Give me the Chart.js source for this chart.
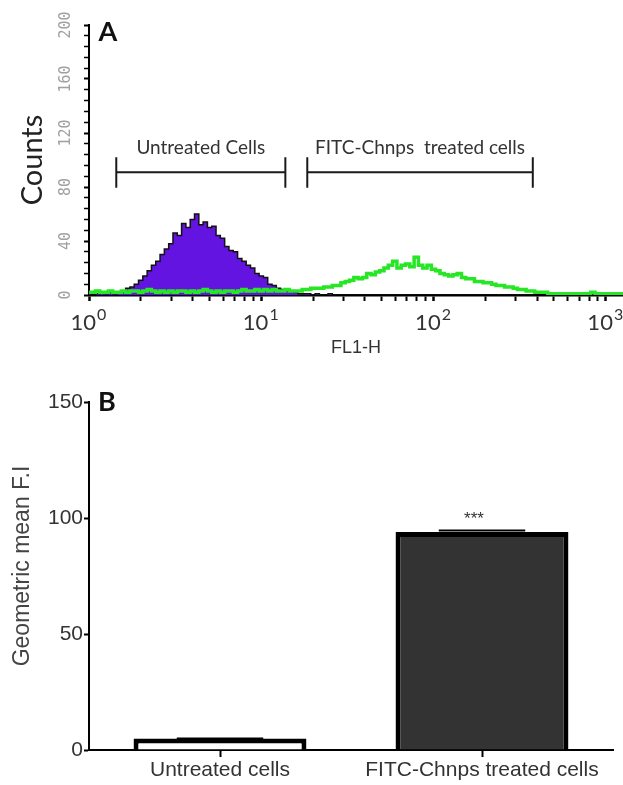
<!DOCTYPE html>
<html>
<head>
<meta charset="utf-8">
<script src="https://cdn.jsdelivr.net/npm/chart.js@4.4.0/dist/chart.umd.min.js"></script>
<style>
  body { margin: 0; background: #fff; }
  canvas { display: block; }
</style>
</head>
<body>
<canvas id="histogram" width="623" height="360"></canvas>
<canvas id="geomean" width="623" height="425"></canvas>
<script>
// panel A - flow histogram, bins are 1/40 decade wide starting at 10^0
const binStep = 0.025;
const untreatedCounts = [
  1, 0, 1, 2, 1, 2, 1, 2, 3, 5, 6, 8, 11, 14, 18, 22, 25, 30, 34, 38,
  46, 44, 53, 50, 56, 60, 52, 54, 50, 51, 44, 42, 36, 33, 32, 27, 25, 22, 20, 16,
  14, 13, 8, 7, 5, 4, 3, 3, 2, 1, 1, 1, 0, 1, 0, 0, 1, 0, 0, 0,
  0, 0, 0, 0, 0, 0, 0, 0, 0, 0, 0, 0, 0, 0, 0, 0, 0, 0, 0, 0,
  0, 0, 0, 0, 0, 0, 0, 0, 0, 0, 0, 0, 0, 0, 0, 0, 0, 0, 0, 0,
  0, 0, 0, 0
];
const fitcCounts = [
  2, 2, 3, 2, 2, 3, 2, 2, 3, 2, 3, 3, 2, 3, 4, 3, 2, 3, 2, 3,
  2, 3, 3, 2, 3, 2, 3, 4, 3, 2, 3, 2, 3, 3, 2, 3, 4, 3, 3, 4,
  3, 4, 3, 4, 3, 3, 4, 3, 3, 3, 4, 4, 5, 5, 5, 6, 6, 7, 7, 9,
  10, 11, 13, 12, 13, 16, 15, 17, 18, 20, 22, 25, 20, 22, 23, 21, 28, 22, 20, 22,
  19, 18, 16, 15, 14, 15, 16, 13, 12, 12, 10, 10, 9, 9, 8, 7, 7, 6, 6, 5,
  4, 4, 3, 3, 2, 2, 2, 1, 1, 1, 1, 1, 1, 1, 1, 1, 1, 2, 1, 1,
  1, 1, 1, 1, 1
];
const decadeExponents = ["0", "1", "2", "3"];
const countLabels = [0, 40, 80, 120, 160, 200];
const gateLabels = ["Untreated Cells", "FITC-Chnps  treated cells"];
const gateFrom = [1.44, 18.5];
const gateTo = [13.8, 377];

// panel B - geometric mean fluorescence
const groups = ["Untreated cells", "FITC-Chnps treated cells"];
const geoMeans = [5, 94];
const geoSem = [0, 0.6];
const significance = ["", "***"];

const letterFont = "bold 27px Lato, 'DejaVu Sans', sans-serif";

function toPoints(counts) {
  return counts.map((c, i) => ({ x: i * binStep, y: c }));
}

// minor + major tick positions for a log axis drawn in log10 units
function logTickValues(maxDecade) {
  const out = [];
  for (let n = 0; n <= 3; n++) {
    for (let k = 1; k <= 9; k++) {
      const v = n + Math.log10(k);
      if (v <= maxDecade) out.push({ value: v });
    }
  }
  return out;
}

const histDecorations = {
  id: "histDecorations",
  afterDraw(chart) {
    const { ctx, scales: { x, y } } = chart;
    ctx.save();

    // rotated count labels, like the cytometer software prints them
    ctx.fillStyle = "#a0a0a0";
    ctx.font = "15px 'DejaVu Sans Mono', monospace";
    ctx.textAlign = "center";
    ctx.textBaseline = "middle";
    countLabels.forEach((c) => {
      ctx.save();
      ctx.translate(66, y.getPixelForValue(c));
      ctx.rotate(-Math.PI / 2);
      ctx.fillText(String(c), 0, 0);
      ctx.restore();
    });

    // decade labels 10^n with a raised exponent
    ctx.fillStyle = "#333";
    ctx.textAlign = "left";
    ctx.textBaseline = "alphabetic";
    decadeExponents.forEach((e, n) => {
      const px = x.getPixelForValue(n);
      ctx.font = "22px Lato, 'Open Sans', sans-serif";
      const wBase = ctx.measureText("10").width;
      ctx.font = "16px Lato, 'Open Sans', sans-serif";
      const wExp = ctx.measureText(e).width;
      const left = px - (wBase + wExp) / 2 - 1;
      ctx.font = "22px Lato, 'Open Sans', sans-serif";
      ctx.fillText("10", left, 330);
      ctx.font = "16px Lato, 'Open Sans', sans-serif";
      ctx.fillText(e, left + wBase + 1, 320);
    });

    // gate brackets
    ctx.strokeStyle = "#1a1a1a";
    ctx.lineWidth = 2;
    ctx.fillStyle = "#333";
    ctx.textAlign = "center";
    ctx.textBaseline = "middle";
    ctx.font = "19px Lato, 'Open Sans', sans-serif";
    gateLabels.forEach((label, i) => {
      const x0 = x.getPixelForValue(Math.log10(gateFrom[i]));
      const x1 = x.getPixelForValue(Math.log10(gateTo[i]));
      const yl = y.getPixelForValue(91);
      const yTop = y.getPixelForValue(102);
      const yBot = y.getPixelForValue(79.5);
      ctx.beginPath();
      ctx.moveTo(x0, yl); ctx.lineTo(x1, yl);
      ctx.moveTo(x0, yTop); ctx.lineTo(x0, yBot);
      ctx.moveTo(x1, yTop); ctx.lineTo(x1, yBot);
      ctx.stroke();
      ctx.fillText(label, (x0 + x1) / 2, y.getPixelForValue(109));
    });

    ctx.fillStyle = "#111";
    ctx.font = letterFont;
    ctx.fillText("A", 108, 32);
    ctx.restore();
  }
};

new Chart(document.getElementById("histogram"), {
  type: "line",
  data: {
    datasets: [
      {
        label: "FITC-Chnps treated cells",
        data: toPoints(fitcCounts),
        borderColor: "#26e626",
        borderWidth: 3.5,
        fill: false,
        stepped: "middle",
        pointRadius: 0,
        order: 0,
      },
      {
        label: "Untreated cells",
        data: toPoints(untreatedCounts),
        borderColor: "#111111",
        borderWidth: 1.5,
        backgroundColor: "#6414e0",
        fill: "origin",
        stepped: "middle",
        pointRadius: 0,
        order: 1,
      },
    ],
  },
  options: {
    responsive: false,
    animation: false,
    layout: { padding: { top: 25, right: 0, left: 0, bottom: 0 } },
    plugins: { legend: { display: false }, tooltip: { enabled: false } },
    scales: {
      x: {
        type: "linear",
        min: 0,
        max: 3.1,
        afterBuildTicks: (scale) => {
          scale.ticks = logTickValues(3.1);
        },
        afterFit: (scale) => {
          scale.height = 65;
        },
        ticks: {
          autoSkip: false,
          maxRotation: 0,
          callback: () => "",
        },
        grid: {
          drawOnChartArea: false,
          tickLength: 6,
          tickColor: "#000",
          tickWidth: (c) => (Number.isInteger(c.tick && c.tick.value) ? 2.5 : 2),
        },
        border: { color: "#000", width: 2.5 },
        title: {
          display: true,
          text: "FL1-H",
          color: "#333",
          font: { family: "Arial, 'Liberation Sans', sans-serif", size: 18 },
          padding: { top: 0, bottom: 1 },
        },
      },
      y: {
        min: 0,
        max: 200,
        afterFit: (scale) => {
          scale.width = 89;
        },
        ticks: { stepSize: 8, display: false },
        grid: {
          drawOnChartArea: false,
          tickLength: 5,
          tickColor: "#000",
          tickWidth: (c) => (c.tick && c.tick.value % 40 === 0 ? 2 : 1.5),
        },
        border: { color: "#000", width: 2 },
        title: {
          display: true,
          text: "Counts",
          color: "#222",
          font: { family: "Lato, 'Open Sans', sans-serif", size: 29 },
          padding: { top: 15, bottom: 0 },
        },
      },
    },
  },
  plugins: [histDecorations],
});

const barDecorations = {
  id: "barDecorations",
  afterDatasetsDraw(chart) {
    const { ctx, scales: { y } } = chart;
    const bars = chart.getDatasetMeta(0).data;
    ctx.save();
    bars.forEach((bar, i) => {
      const top = y.getPixelForValue(geoMeans[i] + geoSem[i]);
      const half = bar.width / 4;
      ctx.strokeStyle = "#000";
      ctx.lineWidth = 2;
      ctx.beginPath();
      ctx.moveTo(bar.x - half, top);
      ctx.lineTo(bar.x + half, top);
      ctx.stroke();
      if (significance[i]) {
        ctx.fillStyle = "#333";
        ctx.font = "17px Arial, 'Liberation Sans', sans-serif";
        ctx.textAlign = "center";
        ctx.textBaseline = "middle";
        ctx.fillText(significance[i], bar.x - 8, top - 11);
      }
    });

    // y title sits a little above the middle of the axis in the original
    ctx.save();
    ctx.translate(23, 206);
    ctx.rotate(-Math.PI / 2);
    ctx.fillStyle = "#444";
    ctx.font = "23px Arial, 'Liberation Sans', sans-serif";
    ctx.textAlign = "center";
    ctx.textBaseline = "middle";
    ctx.fillText("Geometric mean F.I", 0, 0);
    ctx.restore();

    ctx.fillStyle = "#111";
    ctx.font = letterFont;
    ctx.textAlign = "center";
    ctx.textBaseline = "middle";
    ctx.fillText("B", 107, 42);
    ctx.restore();
  }
};

new Chart(document.getElementById("geomean"), {
  type: "bar",
  data: {
    labels: groups,
    datasets: [
      {
        data: geoMeans,
        backgroundColor: ["#ffffff", "#333333"],
        borderColor: "#000",
        borderWidth: 5,
        borderSkipped: "bottom",
        barPercentage: 0.66,
        categoryPercentage: 1,
      },
    ],
  },
  options: {
    responsive: false,
    animation: false,
    layout: { padding: { top: 42, right: 10, left: 0, bottom: 0 } },
    plugins: { legend: { display: false }, tooltip: { enabled: false } },
    scales: {
      x: {
        afterFit: (scale) => {
          scale.height = 35;
        },
        ticks: {
          color: "#333",
          padding: 1,
          font: { family: "Arial, 'Liberation Sans', sans-serif", size: 21 },
        },
        grid: {
          drawOnChartArea: false,
          offset: false,
          tickLength: 7,
          tickColor: "#000",
          tickWidth: 2,
        },
        border: { color: "#000", width: 2 },
      },
      y: {
        min: 0,
        max: 150,
        afterFit: (scale) => {
          scale.width = 89;
        },
        ticks: {
          stepSize: 50,
          color: "#333",
          padding: 1,
          font: { family: "Arial, 'Liberation Sans', sans-serif", size: 21 },
        },
        grid: {
          drawOnChartArea: false,
          tickLength: 5,
          tickColor: "#000",
          tickWidth: 2,
        },
        border: { color: "#000", width: 2 },
      },
    },
  },
  plugins: [barDecorations],
});
</script>
</body>
</html>
